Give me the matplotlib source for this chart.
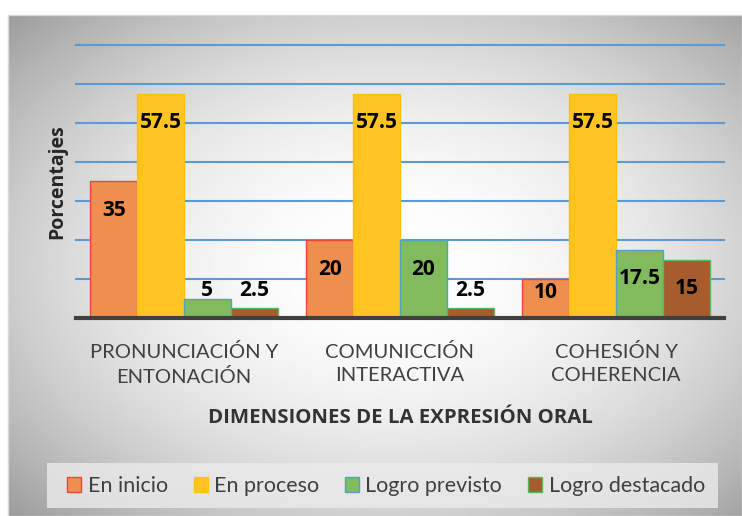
import numpy as np
import matplotlib
matplotlib.use("Agg")
import matplotlib.pyplot as plt
from matplotlib.patches import Patch, Rectangle

categories = ["PRONUNCIACIÓN Y\nENTONACIÓN", "COMUNICCIÓN\nINTERACTIVA", "COHESIÓN Y\nCOHERENCIA"]
series_names = ["En inicio", "En proceso", "Logro previsto", "Logro destacado"]
en_inicio = [35, 20, 10]
en_proceso = [57.5, 57.5, 57.5]
logro_previsto = [5, 20, 17.5]
logro_destacado = [2.5, 2.5, 15]
series = [en_inicio, en_proceso, logro_previsto, logro_destacado]

face_colors = ["#EE8E4F", "#FFC423", "#82BA5E", "#A65C2C"]
edge_colors = ["#F0443A", "#FFC000", "#4BA6C4", "#5DB560"]

plt.rcParams['font.family'] = ['Lato', 'DejaVu Sans']

W, H = 742, 516
fig = plt.figure(figsize=(W / 100, H / 100), dpi=100)

# background gradient frame
bg = fig.add_axes([8 / W, 0, 1 - 8 / W, (H - 15) / H], zorder=-10)
yy, xx = np.mgrid[0:1:300j, 0:1:400j]
r2 = ((xx - 0.52) / 0.75) ** 2 + ((yy - 0.5) / 0.75) ** 2
val = np.clip(1 - 0.42 * r2, 0, 1)
bg.imshow(val, cmap="gray", vmin=0, vmax=1, aspect="auto", extent=[0, 1, 0, 1], interpolation="bilinear")
bg.set_axis_off()
fig.patches.append(Rectangle((8 / W, 0), 1 - 8 / W, (H - 15) / H, transform=fig.transFigure,
                             fill=False, edgecolor="#D9D9D9", linewidth=1.0, zorder=-5))

ax = fig.add_axes([76 / W, (H - 318) / H, 648 / W, 273 / H])
ax.set_facecolor("none")
x = np.arange(len(categories))
width = 0.217
offsets = (np.arange(4) - 1.5) * width
lab_font = dict(fontsize=15, fontweight="bold", color="black", family=["Open Sans", "DejaVu Sans"], zorder=5)
for i, (vals, fc, ec, nm) in enumerate(zip(series, face_colors, edge_colors, series_names)):
    ax.bar(x + offsets[i], vals, width=width, color=fc, edgecolor=ec, linewidth=1.0, zorder=3, label=nm)
    for xi, v in zip(x + offsets[i], vals):
        lab = f"{v:g}"
        if v < 10:
            ax.annotate(lab, (xi, max(v, 5)), xytext=(0, -1.5), textcoords="offset points",
                        ha="center", va="bottom", **lab_font)
        else:
            ax.text(xi, max(v - 7.5, 6.6), lab, ha="center", va="center", **lab_font)

ax.set_xlim(-0.5, 2.5)
ax.set_ylim(0, 70)
ax.set_yticks(np.arange(10, 71, 10))
ax.yaxis.grid(True, color="#5B9BD5", linewidth=1.5, zorder=0)
for gl in ax.get_ygridlines():
    gl.set_clip_on(False)
ax.tick_params(axis="y", length=0, labelleft=False)
ax.set_xticks(x)
ax.set_xticklabels(categories, fontsize=14.5, color="#404040", linespacing=1.45)
ax.tick_params(axis="x", length=0, pad=18)
for s in ["top", "right", "left"]:
    ax.spines[s].set_visible(False)
ax.spines["bottom"].set_color("#404040")
ax.spines["bottom"].set_linewidth(3)
ax.spines["bottom"].set_zorder(6)
ax.set_xlabel("DIMENSIONES DE LA EXPRESIÓN ORAL", fontsize=14.7, fontweight="bold", color="#333333",
              labelpad=16, family=["Open Sans", "DejaVu Sans"])
ax.set_ylabel("Porcentajes", fontsize=14, fontweight="bold", color="#262626", labelpad=6,
              family=["Open Sans", "DejaVu Sans"])

# legend background box
fig.patches.append(Rectangle((47 / W, (H - 508) / H), (718 - 47) / W, 45 / H, transform=fig.transFigure,
                             facecolor="#EBEBEB", alpha=0.8, edgecolor="none", zorder=1))
handles = [Patch(facecolor=fc, edgecolor=ec, linewidth=1.0) for fc, ec in zip(face_colors, edge_colors)]
leg = fig.legend(handles, series_names, loc="center", bbox_to_anchor=(386 / W, (H - 486) / H),
                 ncol=4, fontsize=15.5, frameon=False, handlelength=0.65, handleheight=0.65,
                 handletextpad=0.3, columnspacing=1.2, borderpad=0.35, borderaxespad=0)
for t in leg.get_texts():
    t.set_color("#404040")

fig.savefig("out.png", dpi=100)
